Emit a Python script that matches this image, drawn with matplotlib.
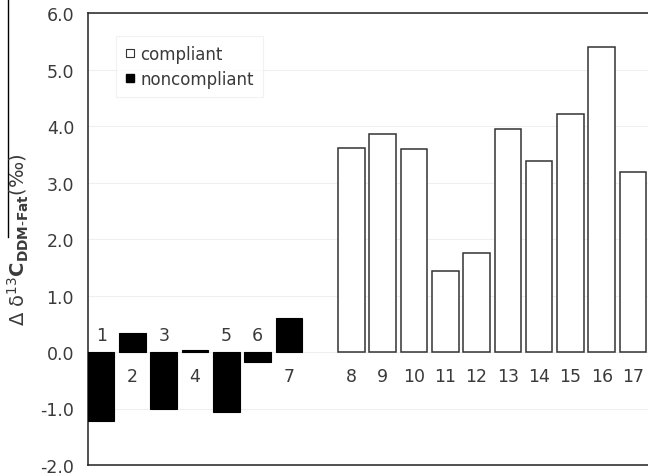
import matplotlib
matplotlib.use("Agg")
import matplotlib.pyplot as plt
from matplotlib.lines import Line2D

plt.rcParams["font.family"] = ["DejaVu Sans"]
plt.rcParams["mathtext.fontset"] = "custom"
plt.rcParams["mathtext.rm"] = "DejaVu Sans"
plt.rcParams["mathtext.bf"] = "DejaVu Sans:bold"

# sample numbers and their delta values
samples = [str(i) for i in range(1, 18)]
delta = [-1.23, 0.33, -1.00, 0.04, -1.06, -0.18, 0.60,
         3.61, 3.85, 3.59, 1.43, 1.75, 3.95, 3.38, 4.22, 5.39, 3.19]
compliant = [False] * 7 + [True] * 10

yticks = [-2.0, -1.0, 0.0, 1.0, 2.0, 3.0, 4.0, 5.0, 6.0]

txt_color = "#3a3a3a"
fs = 12.5

fig = plt.figure(figsize=(6.48, 4.77), dpi=100)
ax = fig.add_axes([88 / 648, 1 - 466 / 477, 1 - 88 / 648, (466 - 14) / 477])

# gap of one slot between the two groups
pos = [i if i < 7 else i + 1 for i in range(len(samples))]

for p, v, c, s in zip(pos, delta, compliant, samples):
    if c:
        ax.bar(p, v, width=0.85, color="white", edgecolor="#333333",
               linewidth=1.1, zorder=3)
    else:
        ax.bar(p, v, width=0.85, color="black", edgecolor="black",
               linewidth=0.8, zorder=3)
    ty = 0.30 if v < 0 else -0.42
    ax.text(p, ty, s, ha="center", va="center", fontsize=fs,
            color=txt_color)

ax.set_ylim(-2.0, 6.0)
ax.set_xlim(-0.42, 17.48)
ax.set_yticks(yticks)
ax.set_yticklabels([f"{t:.1f}" for t in yticks], fontsize=fs, color=txt_color)
ax.set_xticks([])
ax.tick_params(axis="y", length=0, pad=10)
ax.grid(axis="y", color="#efefef", linewidth=0.8, zorder=0)
ax.set_axisbelow(True)

for side in ["left", "top", "bottom"]:
    ax.spines[side].set_color("#222222")
    ax.spines[side].set_linewidth(1.1)
ax.spines["right"].set_visible(False)

handles = [
    Line2D([], [], linestyle="none", marker="s", markersize=6,
           markerfacecolor="white", markeredgecolor="#333333",
           markeredgewidth=0.8, label="compliant"),
    Line2D([], [], linestyle="none", marker="s", markersize=6,
           markerfacecolor="black", markeredgecolor="black",
           label="noncompliant"),
]
leg = ax.legend(handles=handles, loc="upper left", bbox_to_anchor=(0.05, 0.95),
                borderaxespad=0, fancybox=False, handlelength=0.6,
                handletextpad=0.3, labelspacing=0.45, fontsize=12,
                borderpad=0.55)
leg.get_frame().set_edgecolor("#eeeeee")
leg.get_frame().set_linewidth(0.8)
for t in leg.get_texts():
    t.set_color(txt_color)

fig.text(18 / 648, 1 - 240 / 477,
         r"Δ δ$^{13}\mathbf{C}_{\mathbf{DDM}\text{-}\mathbf{Fat}}$(‰)",
         rotation=90, ha="center", va="center", fontsize=14, color=txt_color)

# stray line at the left edge of the scan
fig.add_artist(Line2D([8 / 648, 8 / 648], [1.0, 1 - 238 / 477],
                      color="black", linewidth=1.0))

fig.savefig("out.png", dpi=100)
